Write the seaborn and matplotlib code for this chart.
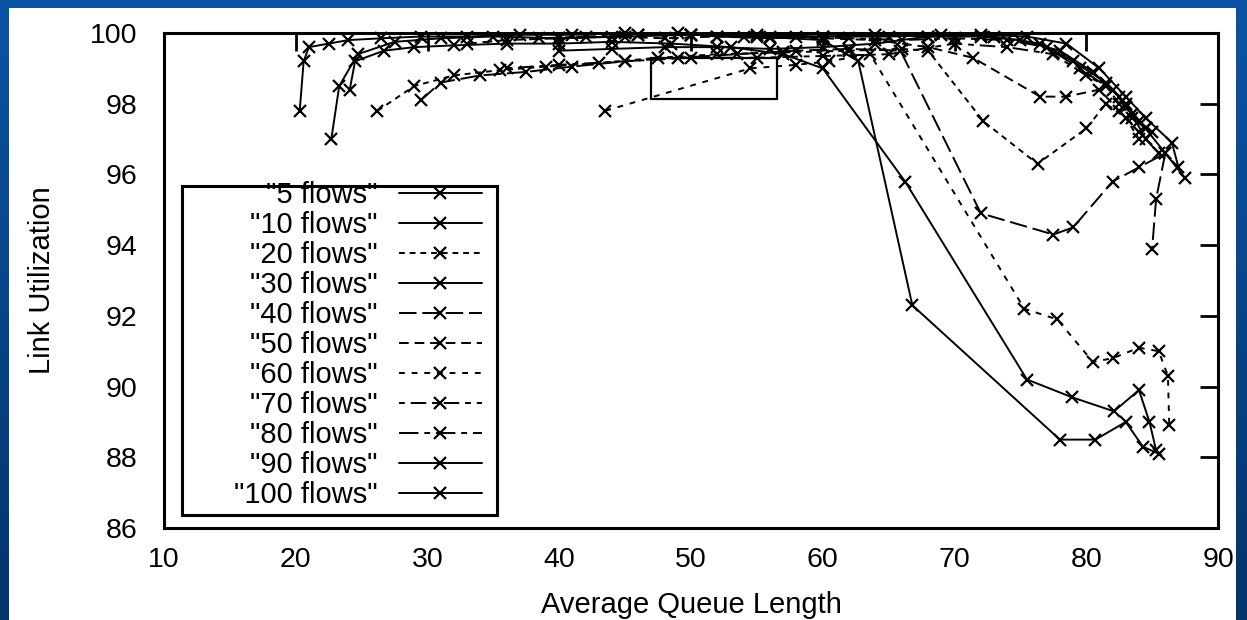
import numpy as np
import pandas as pd
import matplotlib
matplotlib.use("Agg")
import matplotlib.pyplot as plt
import seaborn as sns
from matplotlib.patches import Rectangle
from matplotlib.colors import LinearSegmentedColormap

# ---------------- data ----------------
series_names = ['"5 flows"', '"10 flows"', '"20 flows"', '"30 flows"', '"40 flows"',
                '"50 flows"', '"60 flows"', '"70 flows"', '"80 flows"', '"90 flows"',
                '"100 flows"']

x_5 = [20.3, 20.6, 21.0, 22.5, 24.0, 26.5, 29.5, 33.0, 37.0, 41.0, 45.0, 50.0, 55.0,
       60.0, 65.0, 69.0, 73.0, 76.5, 79.0, 81.5, 83.0, 84.5, 86.0, 87.5]
y_5 = [97.8, 99.2, 99.6, 99.7, 99.8, 99.85, 99.9, 99.9, 99.95, 99.95, 100.0, 99.95, 99.95,
       99.9, 99.9, 99.95, 99.9, 99.7, 99.2, 98.6, 98.0, 97.3, 96.6, 95.9]

x_10 = [22.7, 23.3, 24.7, 27.5, 31.0, 35.0, 40.0, 45.0, 50.0, 55.0, 60.0, 62.7, 66.8,
        78.0, 80.7, 83.0, 84.3, 85.5]
y_10 = [97.0, 98.5, 99.4, 99.75, 99.85, 99.9, 99.85, 99.9, 99.95, 99.9, 99.8, 99.2, 92.3,
        88.5, 88.5, 89.0, 88.3, 88.1]

x_20 = [26.2, 29.0, 32.0, 35.5, 39.0, 43.0, 47.5, 52.0, 57.0, 62.0, 66.0, 68.0, 72.2,
        76.3, 80.0, 81.5, 83.0, 84.0]
y_20 = [97.8, 98.5, 98.8, 98.95, 99.05, 99.15, 99.3, 99.4, 99.45, 99.5, 99.55, 99.5, 97.5,
        96.3, 97.3, 98.0, 97.6, 97.0]

x_30 = [24.1, 24.5, 26.7, 29.0, 32.0, 36.0, 40.0, 44.0, 48.5, 53.0, 57.0, 60.0, 66.25,
        75.5, 78.9, 82.1, 84.0, 84.8, 85.3]
y_30 = [98.4, 99.2, 99.5, 99.6, 99.65, 99.7, 99.7, 99.75, 99.7, 99.6, 99.4, 99.0, 95.8,
        90.2, 89.7, 89.3, 89.9, 89.0, 88.2]

x_40 = [29.5, 31.0, 34.0, 37.5, 41.0, 45.0, 49.0, 53.5, 58.0, 62.0, 65.9, 72.0, 77.5,
        79.0, 82.0, 84.0, 86.0, 85.3, 85.0]
y_40 = [98.1, 98.6, 98.8, 98.9, 99.05, 99.2, 99.3, 99.4, 99.5, 99.55, 99.5, 94.9, 94.3,
        94.5, 95.8, 96.2, 96.6, 95.3, 93.9]

x_50 = [33.0, 36.0, 40.0, 44.0, 48.0, 52.0, 56.0, 60.0, 64.0, 68.0, 71.4, 76.5, 78.5,
        81.0, 82.5, 84.0]
y_50 = [99.7, 99.8, 99.85, 99.9, 99.85, 99.9, 99.9, 99.85, 99.8, 99.6, 99.3, 98.2, 98.2,
        98.4, 97.8, 97.2]

x_60 = [43.5, 54.5, 58.0, 60.5, 63.6, 75.3, 77.8, 80.5, 82.0, 84.0, 85.5, 86.2, 86.3]
y_60 = [97.8, 99.0, 99.1, 99.2, 99.4, 92.2, 91.9, 90.7, 90.8, 91.1, 91.0, 90.3, 88.9]

x_70 = [36.0, 40.0, 45.0, 50.0, 55.0, 60.0, 65.0, 70.0, 74.0, 77.5, 80.0, 82.0, 83.0,
        84.0, 85.0]
y_70 = [99.0, 99.1, 99.2, 99.3, 99.3, 99.35, 99.4, 99.7, 99.6, 99.4, 98.8, 98.4, 97.9,
        97.5, 97.2]

x_80 = [38.5, 42.0, 46.0, 50.0, 54.0, 58.0, 62.0, 66.0, 70.0, 74.0, 77.0, 79.5, 81.5,
        82.5, 83.5, 84.5]
y_80 = [99.85, 99.9, 99.95, 99.95, 99.9, 99.9, 99.85, 99.8, 99.85, 99.8, 99.6, 99.0, 98.5,
        98.0, 97.6, 97.3]

x_90 = [40.0, 44.0, 48.0, 52.0, 56.0, 60.0, 64.0, 68.0, 72.0, 75.0, 78.0, 80.5, 82.5,
        83.5, 84.5, 85.5]
y_90 = [99.5, 99.55, 99.6, 99.6, 99.55, 99.6, 99.7, 99.9, 99.9, 99.8, 99.5, 98.9, 98.2,
        97.7, 97.0, 96.6]

x_100 = [46.0, 49.0, 52.0, 56.0, 60.0, 64.0, 68.0, 72.0, 75.5, 78.5, 81.0, 83.0, 84.5,
         86.5, 87.0]
y_100 = [99.95, 100.0, 99.9, 99.85, 99.9, 99.95, 99.9, 99.95, 99.9, 99.7, 99.0, 98.2, 97.6,
         96.9, 96.2]

# zoom box drawn on the plot
box_x = [47.0, 56.5, 56.5, 47.0, 47.0]
box_y = [98.13, 98.13, 99.3, 99.3, 98.13]

x_ticks = [10, 20, 30, 40, 50, 60, 70, 80, 90]
y_ticks = [86, 88, 90, 92, 94, 96, 98, 100]

all_x = [x_5, x_10, x_20, x_30, x_40, x_50, x_60, x_70, x_80, x_90, x_100]
all_y = [y_5, y_10, y_20, y_30, y_40, y_50, y_60, y_70, y_80, y_90, y_100]

frames = []
for name, xs, ys in zip(series_names, all_x, all_y):
    frames.append(pd.DataFrame({"series": name, "queue": xs, "util": ys,
                                "order": range(len(xs))}))
df = pd.concat(frames, ignore_index=True)

line_styles = {
    '"5 flows"': '-',
    '"10 flows"': '-',
    '"20 flows"': (0, (3, 2.5)),
    '"30 flows"': '-',
    '"40 flows"': (0, (9, 3)),
    '"50 flows"': (0, (5, 3)),
    '"60 flows"': (0, (3, 3.5)),
    '"70 flows"': (0, (3, 3, 8, 3)),
    '"80 flows"': (0, (10, 3, 3, 3)),
    '"90 flows"': '-',
    '"100 flows"': '-',
}

# ---------------- styling ----------------
sns.set_theme(style="white")
plt.rcParams['font.family'] = ['Liberation Sans', 'DejaVu Sans']

W, H = 1247, 620
fig = plt.figure(figsize=(W / 100, H / 100), dpi=100)

# blue slide background with white card
bg = fig.add_axes([0, 0, 1, 1], zorder=-10)
cmap = LinearSegmentedColormap.from_list("slide", ["#0b54a3", "#074587", "#04346a"])
grad = np.linspace(0, 1, 256).reshape(-1, 1)
bg.imshow(grad, aspect="auto", cmap=cmap, extent=[0, 1, 0, 1], origin="upper")
bg.add_patch(Rectangle((9 / W, 0), (1236 - 9) / W, (H - 8) / H,
                       transform=bg.transAxes, facecolor="white", edgecolor="none"))
bg.set_xlim(0, 1)
bg.set_ylim(0, 1)
bg.axis("off")

left, right, top, bottom = 164, 1218, 33, 528
ax = fig.add_axes([left / W, (H - bottom) / H, (right - left) / W, (bottom - top) / H])
ax.set_facecolor("white")

for name in series_names:
    sub = df[df["series"] == name]
    sns.lineplot(data=sub, x="queue", y="util", sort=False, estimator=None,
                 color="black", linestyle=line_styles[name], linewidth=1.4,
                 marker="x", markersize=9, markeredgewidth=1.6,
                 markeredgecolor="black", label=name, ax=ax, clip_on=False)

ax.plot(box_x, box_y, color="black", linewidth=1.6, solid_joinstyle="miter")

ax.set_xlim(10, 90)
ax.set_ylim(86, 100)
ax.set_xticks(x_ticks)
ax.set_yticks(y_ticks)
ax.set_xticklabels([str(v) for v in x_ticks])
ax.set_yticklabels([str(v) for v in y_ticks])
ax.tick_params(direction="in", top=True, right=True, length=13, width=2,
               labelsize=20.5, colors="black")
ax.tick_params(axis="x", pad=14)
ax.tick_params(axis="y", pad=19)
for sp in ax.spines.values():
    sp.set_visible(True)
    sp.set_linewidth(2.2)
    sp.set_color("black")

ax.set_xlabel("Average Queue Length", fontsize=21, color="black")
ax.set_ylabel("Link Utilization", fontsize=21, color="black")
ax.xaxis.set_label_coords(0.5, -0.128)
ax.yaxis.set_label_coords(-0.102, 0.5)

# legend: text right-aligned, sample on the right
handles, labels = ax.get_legend_handles_labels()
handles, labels = handles[:len(series_names)], labels[:len(series_names)]
leg = ax.legend(handles, labels, loc="upper right",
                bbox_to_anchor=((482 - left) / (right - left), (bottom - 181) / (bottom - top)),
                markerfirst=False, frameon=False, fontsize=21,
                handlelength=2.85, handletextpad=0.72, labelspacing=0.07,
                borderpad=0, borderaxespad=0)
for t in leg.get_texts():
    t.set_color("black")
ax.add_patch(Rectangle(((182 - left) / (right - left), (bottom - 515) / (bottom - top)),
                       (497 - 182) / (right - left), (515 - 186) / (bottom - top),
                       transform=ax.transAxes, facecolor="none", edgecolor="black",
                       linewidth=2.2, zorder=5))

fig.savefig("out.png", dpi=100, facecolor=fig.get_facecolor())
